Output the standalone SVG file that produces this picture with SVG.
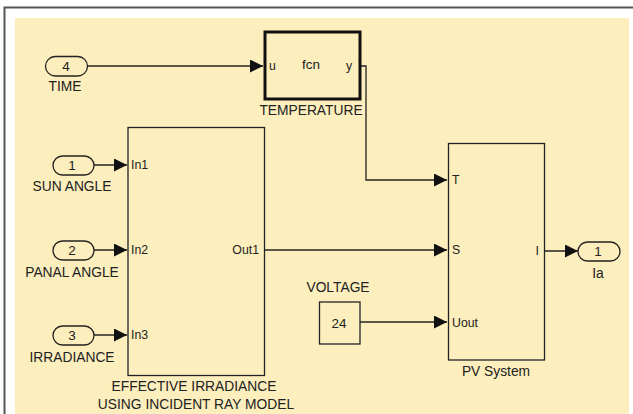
<svg xmlns="http://www.w3.org/2000/svg" width="633" height="414" viewBox="0 0 633 414">
<style>
text{font-family:"Liberation Sans",Arial,sans-serif;fill:#222}
.lbl{font-size:13.8px;text-anchor:middle}
.prt{font-size:12.3px}
.num{font-size:13.5px;text-anchor:middle}
.blk{fill:none;stroke:#222;stroke-width:1.3}
.pill{fill:none;stroke:#222;stroke-width:1.3}
.wire{fill:none;stroke:#222;stroke-width:1.3}
</style>
<defs>
<marker id="ah" markerUnits="userSpaceOnUse" markerWidth="14" markerHeight="14" refX="13" refY="6.5" orient="auto">
<path d="M0,0 L13,6.5 L0,13 z" fill="#111"/>
</marker>
</defs>
<rect x="0" y="0" width="633" height="414" fill="#fff"/>
<rect x="15" y="18" width="614" height="396" fill="#FDEEBD"/>
<path d="M4.5,414 V7.5 H633" fill="none" stroke="#555" stroke-width="2"/>

<g id="connectors">
<path class="wire" d="M87,66 H263" marker-end="url(#ah)"/>
<path class="wire" d="M361,66 H366 V180 H447" marker-end="url(#ah)"/>
<path class="wire" d="M94,165 H127" marker-end="url(#ah)"/>
<path class="wire" d="M94,250 H127" marker-end="url(#ah)"/>
<path class="wire" d="M94,335 H127" marker-end="url(#ah)"/>
<path class="wire" d="M265,250 H447" marker-end="url(#ah)"/>
<path class="wire" d="M360,322 H447" marker-end="url(#ah)"/>
<path class="wire" d="M545,251 H578" marker-end="url(#ah)"/>
</g>

<g id="in4">
<rect class="pill" x="45.5" y="56.5" width="42" height="19.5" rx="9.75"/>
<text class="num" x="66" y="71">4</text>
<text class="lbl" x="65" y="91">TIME</text>
</g>

<g id="temperature">
<rect x="265" y="32" width="95" height="67" fill="none" stroke="#111" stroke-width="3"/>
<text class="prt" x="269" y="70">u</text>
<text x="311" y="69" text-anchor="middle" font-size="13.5">fcn</text>
<text class="prt" x="346" y="70">y</text>
<text class="lbl" x="311" y="115">TEMPERATURE</text>
</g>

<g id="in1">
<rect class="pill" x="53" y="156" width="41" height="19" rx="9.5"/>
<text class="num" x="72" y="170">1</text>
<text class="lbl" x="72" y="191">SUN ANGLE</text>
</g>

<g id="in2">
<rect class="pill" x="53" y="241" width="41" height="19" rx="9.5"/>
<text class="num" x="72" y="255">2</text>
<text class="lbl" x="72" y="277">PANAL ANGLE</text>
</g>

<g id="in3">
<rect class="pill" x="53" y="326" width="41" height="19" rx="9.5"/>
<text class="num" x="72" y="340">3</text>
<text class="lbl" x="72" y="362">IRRADIANCE</text>
</g>

<g id="irradiance-model">
<rect class="blk" x="128" y="127.5" width="136.5" height="248"/>
<text class="prt" x="131" y="169">In1</text>
<text class="prt" x="131" y="254">In2</text>
<text class="prt" x="131" y="339">In3</text>
<text class="prt" x="259" y="254" text-anchor="end">Out1</text>
<text class="lbl" x="194" y="391">EFFECTIVE IRRADIANCE</text>
<text class="lbl" x="196" y="409">USING INCIDENT RAY MODEL</text>
</g>

<g id="voltage">
<rect class="blk" x="319.5" y="302" width="40.5" height="42"/>
<text class="num" x="339" y="328">24</text>
<text class="lbl" x="338" y="292">VOLTAGE</text>
</g>

<g id="pv-system">
<rect class="blk" x="448.5" y="143.5" width="96" height="216.5"/>
<text class="prt" x="452" y="184">T</text>
<text class="prt" x="452" y="254">S</text>
<text class="prt" x="452" y="327">Uout</text>
<text class="prt" x="539" y="255" text-anchor="end">I</text>
<text class="lbl" x="496" y="376">PV System</text>
</g>

<g id="out1">
<rect class="pill" x="578" y="242" width="42" height="19" rx="9.5"/>
<text class="num" x="598" y="256">1</text>
<text class="lbl" x="598" y="278">Ia</text>
</g>
</svg>
